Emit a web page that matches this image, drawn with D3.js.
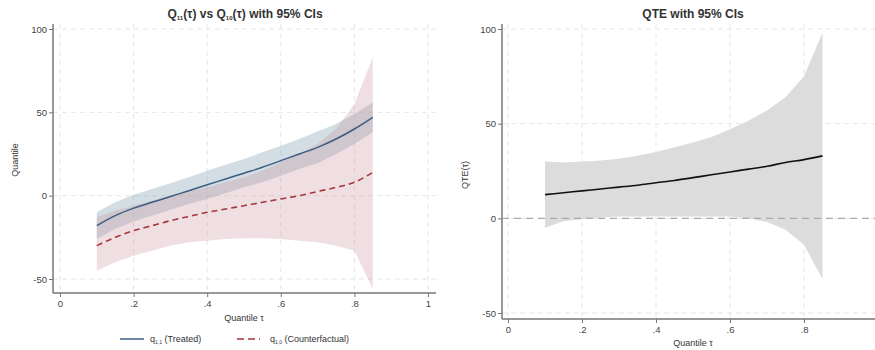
<!DOCTYPE html>
<html>
<head>
<meta charset="utf-8">
<script src="https://cdn.jsdelivr.net/npm/d3@7"></script>
<style>
  body { margin: 0; background: #fff; }
  text { font-family: "Liberation Sans", Arial, sans-serif; fill: #333; }
</style>
</head>
<body>
<svg id="svg1" width="875" height="350"></svg>
<script>
// quantiles
var tau = [0.10, 0.15, 0.20, 0.25, 0.30, 0.35, 0.40, 0.45, 0.50, 0.55, 0.60, 0.65, 0.70, 0.75, 0.80, 0.85];

// treated quantile q11 and CI
var q11     = [-18, -12, -7.5, -4, -0.5, 3, 6.5, 10, 13.5, 17, 21, 25, 29, 34, 40, 47];
var q11_hi  = [-10, -4, 0.5, 4, 7.5, 11, 15, 18.5, 22, 26, 30, 34, 38.5, 43, 49, 56];
var q11_lo  = [-26, -20, -15.5, -12, -8.5, -5, -2, 1.5, 5, 8, 12, 16, 19.5, 25, 31, 38];

// counterfactual quantile q10 and CI
var q10     = [-30, -25, -21, -18, -15, -12.5, -10, -8, -6, -4, -2, 0, 2.5, 5, 8, 14];
var q10_hi  = [-13, -9, -6, -3, 0, 2.5, 5, 8, 11, 15, 20, 25, 31, 40, 55, 83];
var q10_lo  = [-45, -40, -36, -33, -30, -28, -27, -26, -25.5, -25.5, -26, -27, -28, -30, -33, -56];

// QTE and CI
var qte     = [12.5, 13.5, 14.5, 15.5, 16.5, 17.5, 18.8, 20, 21.5, 23, 24.5, 26, 27.5, 29.5, 31, 33];
var qte_hi  = [30, 29.5, 30, 30.5, 31.5, 33, 35, 37.5, 40, 43, 47, 51.5, 57, 64, 75, 98];
var qte_lo  = [-5, -1.5, -0.5, 0.5, 1, 1, 1, 1, 1, 1, 1, 0, -2, -6, -14, -32];

var xTicks = [0, 0.2, 0.4, 0.6, 0.8, 1];
var xTickLabels = ["0", ".2", ".4", ".6", ".8", "1"];
var yTicks = [-50, 0, 50, 100];

var svg = d3.select("#svg1");

function fmtX(d) { return xTickLabels[xTicks.indexOf(d)]; }

// draws the frame of one panel, returns the scales
function panel(opt) {
  var x = d3.scaleLinear().domain([0, 1]).range([opt.x0, opt.x1]);
  var y = d3.scaleLinear().domain([-50, 100]).range([opt.y0, opt.y1]);
  var g = svg.append("g");
  var xt = xTicks.filter(d => x(d) < opt.right);

  // gridlines
  g.selectAll(".hg").data(yTicks).enter().append("line")
    .attr("x1", opt.left).attr("x2", opt.right)
    .attr("y1", d => y(d)).attr("y2", d => y(d))
    .attr("stroke", "#e6e6e6").attr("stroke-dasharray", "5,4");
  g.selectAll(".vg").data(xt).enter().append("line")
    .attr("x1", d => x(d)).attr("x2", d => x(d))
    .attr("y1", opt.top).attr("y2", opt.bottom)
    .attr("stroke", "#e6e6e6").attr("stroke-dasharray", "5,4");

  // axes
  var yAxis = g.append("g")
    .attr("transform", "translate(" + opt.left + ",0)")
    .call(d3.axisLeft(y).tickValues(yTicks).tickFormat(d => String(d)).tickSize(4).tickPadding(2));
  var xAxis = g.append("g")
    .attr("transform", "translate(0," + opt.bottom + ")")
    .call(d3.axisBottom(x).tickValues(xt).tickFormat(fmtX).tickSize(4).tickPadding(3));
  [yAxis, xAxis].forEach(function(a) {
    a.select(".domain").remove();
    a.selectAll("line").attr("stroke", "#777");
    a.selectAll("text").style("font-size", "9.5px").style("fill", "#444")
      .style("font-family", "'Liberation Sans', Arial, sans-serif");
  });
  g.append("line").attr("x1", opt.left).attr("x2", opt.left)
    .attr("y1", opt.top).attr("y2", opt.bottom).attr("stroke", "#777").attr("stroke-width", 1.5);
  g.append("line").attr("x1", opt.left).attr("x2", opt.right)
    .attr("y1", opt.bottom).attr("y2", opt.bottom).attr("stroke", "#777").attr("stroke-width", 1.5);

  return {x: x, y: y, g: g};
}

function band(p, lo, hi, fill) {
  var area = d3.area()
    .x((d, i) => p.x(tau[i]))
    .y0((d, i) => p.y(lo[i]))
    .y1((d, i) => p.y(hi[i]));
  p.g.append("path").datum(tau).attr("d", area).attr("fill", fill);
}

function curve(p, vals, color, dash, w) {
  var line = d3.line()
    .x((d, i) => p.x(tau[i]))
    .y((d, i) => p.y(vals[i]))
    .curve(d3.curveMonotoneX);
  p.g.append("path").datum(tau).attr("d", line)
    .attr("fill", "none").attr("stroke", color).attr("stroke-width", w)
    .attr("stroke-dasharray", dash);
}

// ---- left panel
var L = panel({x0: 60, x1: 428, y0: 279, y1: 29, left: 53, right: 436, top: 24, bottom: 293});
band(L, q11_lo, q11_hi, "rgba(140,165,185,0.38)");
band(L, q10_lo, q10_hi, "rgba(200,140,150,0.28)");
curve(L, q11, "#3b5d80", null, 1.5);
curve(L, q10, "#a5363c", "6,4", 1.6);

var t1 = svg.append("text").attr("x", 245).attr("y", 18)
  .attr("text-anchor", "middle").style("font-size", "12px").style("font-weight", "600");
t1.append("tspan").text("Q");
t1.append("tspan").text("11").style("font-size", "6px").attr("dy", 2);
t1.append("tspan").text("(τ) vs Q").attr("dy", -2);
t1.append("tspan").text("10").style("font-size", "6px").attr("dy", 2);
t1.append("tspan").text("(τ) with 95% CIs").attr("dy", -2);

svg.append("text").attr("x", 244).attr("y", 321).attr("text-anchor", "middle")
  .style("font-size", "9px").text("Quantile τ");
svg.append("text").attr("transform", "translate(18,160) rotate(-90)").attr("text-anchor", "middle")
  .style("font-size", "9px").text("Quantile");

// legend
var leg = svg.append("g");
leg.append("line").attr("x1", 120).attr("x2", 144).attr("y1", 339).attr("y2", 339)
  .attr("stroke", "#3b5d80").attr("stroke-width", 1.5);
var l1 = leg.append("text").attr("x", 150).attr("y", 342).style("font-size", "9px");
l1.append("tspan").text("q");
l1.append("tspan").text("1,1").style("font-size", "5px").attr("dy", 1.5);
l1.append("tspan").text(" (Treated)").attr("dy", -1.5);
leg.append("line").attr("x1", 237).attr("x2", 260).attr("y1", 339).attr("y2", 339)
  .attr("stroke", "#a5363c").attr("stroke-width", 1.6).attr("stroke-dasharray", "7,4");
var l2 = leg.append("text").attr("x", 270).attr("y", 342).style("font-size", "9px");
l2.append("tspan").text("q");
l2.append("tspan").text("1,0").style("font-size", "5px").attr("dy", 1.5);
l2.append("tspan").text(" (Counterfactual)").attr("dy", -1.5);

// ---- right panel
var R = panel({x0: 508, x1: 878, y0: 313, y1: 29, left: 502, right: 875, top: 24, bottom: 319});
band(R, qte_lo, qte_hi, "#dcdcdc");
R.g.append("line").attr("x1", 502).attr("x2", 875).attr("y1", R.y(0)).attr("y2", R.y(0))
  .attr("stroke", "#aaa").attr("stroke-width", 1.2).attr("stroke-dasharray", "7,5");
curve(R, qte, "#111", null, 1.6);

svg.append("text").attr("x", 693).attr("y", 18).attr("text-anchor", "middle")
  .style("font-size", "12px").style("font-weight", "600").text("QTE with 95% CIs");
svg.append("text").attr("x", 693).attr("y", 346).attr("text-anchor", "middle")
  .style("font-size", "9px").text("Quantile τ");
svg.append("text").attr("transform", "translate(468,175) rotate(-90)").attr("text-anchor", "middle")
  .style("font-size", "9px").text("QTE(τ)");
</script>
</body>
</html>
